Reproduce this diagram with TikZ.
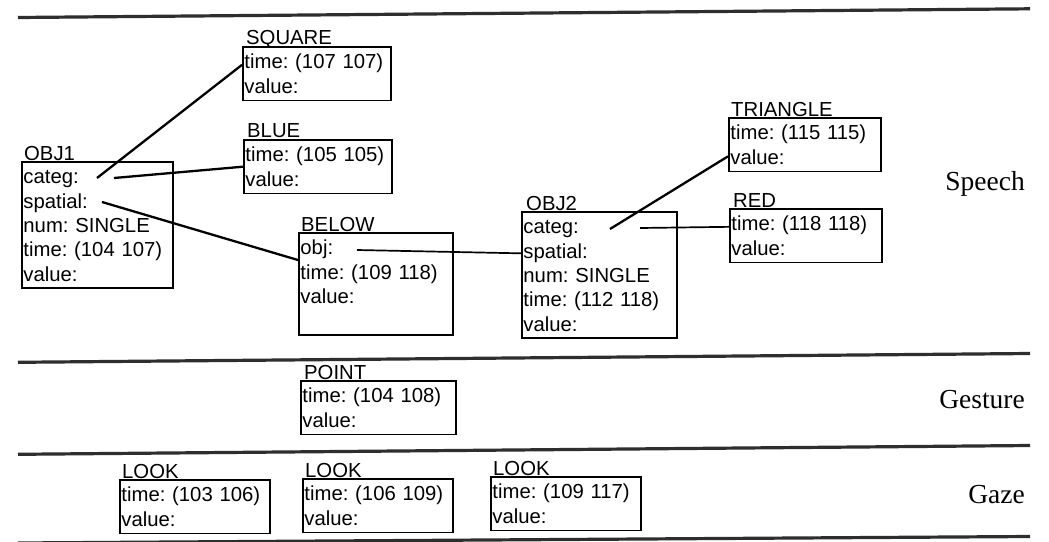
\documentclass[tikz,border=0pt]{standalone}
\usepackage{fontspec}
\setmainfont{Liberation Sans}
\newfontfamily\modefont{Liberation Serif}
\usetikzlibrary{calc}
\newcommand\firstrow{\rule{0pt}{15pt}}
\frenchspacing
\begin{document}
\begin{tikzpicture}[x=1pt,y=-1pt,
  fbox/.style={draw, line width=1.9pt, anchor=north west, align=left,
    inner xsep=1.5pt, inner ysep=7pt, font=\fontsize{20.3}{24.3}\selectfont\frenchspacing},
  ftitle/.style={anchor=base west, inner sep=0pt, font=\fontsize{20.3}{24.3}\selectfont},
  link/.style={line width=2.3pt},
  thinlink/.style={line width=1.7pt},
  sepline/.style={line width=3.2pt, black!82},
  mode/.style={anchor=base east, inner sep=0pt, font=\modefont\fontsize{27.5}{30}\selectfont}]
\fill[white] (0,0) rectangle (1049,541);
\useasboundingbox (0,0) rectangle (1049,541);

% separators
\draw[sepline] (18,17.5) -- (1030,8.8);
\draw[sepline] (18,362.3) -- (1030,353.5);
\draw[sepline] (18,454.3) -- (1030,445.5);
\draw[sepline] (18,543) -- (1030,536.5);

% speech
\node[fbox, text width=145pt] (square) at (242,46) {\firstrow time: (107 107)\\value:};
\node[ftitle] (squareT) at ($(square.north west)+(4,-2)$) {SQUARE};
\node[fbox, text width=145pt] (blue) at (243,139) {\firstrow time: (105 105)\\value:};
\node[ftitle] (blueT) at ($(blue.north west)+(4,-2)$) {BLUE};
\node[fbox, text width=148pt] (obj1) at (21,161) {\firstrow categ:\\spatial:\\num: SINGLE\\time: (104 107)\\value:};
\node[ftitle] (obj1T) at ($(obj1.north west)+(3,-1)$) {OBJ1};
\node[fbox, text width=151pt] (below) at (298,232) {\firstrow obj:\\time: (109 118)\\value:\\\mbox{}};
\node[ftitle] (belowT) at ($(below.north west)+(3,-1)$) {BELOW};
\node[fbox, text width=152pt] (obj2) at (521,211) {\firstrow categ:\\spatial:\\num: SINGLE\\time: (112 118)\\value:};
\node[ftitle] (obj2T) at ($(obj2.north west)+(5,-1)$) {OBJ2};
\node[fbox, text width=149pt] (triangle) at (728,117) {\firstrow time: (115 115)\\value:};
\node[ftitle] (triangleT) at ($(triangle.north west)+(3,-1)$) {TRIANGLE};
\node[fbox, text width=149pt] (red) at (729,208) {\firstrow time: (118 118)\\value:};
\node[ftitle] (redT) at ($(red.north west)+(4,-1)$) {RED};

% gesture
\node[fbox, text width=152pt] (point) at (300,380) {\firstrow time: (104 108)\\value:};
\node[ftitle] (pointT) at ($(point.north west)+(4,-1)$) {POINT};

% gaze
\node[fbox, text width=147pt] (look1) at (119,479) {\firstrow time: (103 106)\\value:};
\node[ftitle] (look1T) at ($(look1.north west)+(3,-1)$) {LOOK};
\node[fbox, text width=147pt] (look2) at (302,478) {\firstrow time: (106 109)\\value:};
\node[ftitle] (look2T) at ($(look2.north west)+(3,-1)$) {LOOK};
\node[fbox, text width=147pt] (look3) at (490,476) {\firstrow time: (109 117)\\value:};
\node[ftitle] (look3T) at ($(look3.north west)+(3,-1)$) {LOOK};

% modality labels
\node[mode] (speech) at (1025,190) {Speech};
\node[mode] (gesture) at (1025,408) {Gesture};
\node[mode] (gaze) at (1025,503) {Gaze};

% connector end points
\coordinate (o1a) at (97,178);
\coordinate (o1b) at (114,178);
\coordinate (o1c) at (102,202);
\coordinate (belo) at (357,250);
\coordinate (o2a) at (610,229);
\coordinate (o2b) at (640,228);
\coordinate (sqin) at ($(square.north west)!0.34!(square.south west)$);
\coordinate (blin) at ($(blue.north west)!0.5!(blue.south west)$);
\coordinate (bein) at ($(below.north west)!0.27!(below.south west)$);
\coordinate (o2in) at ($(obj2.north west)!0.33!(obj2.south west)$);
\coordinate (trin) at ($(triangle.north west)!0.71!(triangle.south west)$);
\coordinate (rdin) at ($(red.north west)!0.34!(red.south west)$);

\draw[link] (o1a) -- (sqin);
\draw[link] (o1b) -- (blin);
\draw[link] (o1c) -- (bein);
\draw[thinlink] (belo) -- (o2in);
\draw[link] (o2a) -- (trin);
\draw[thinlink] (o2b) -- (rdin);
\end{tikzpicture}
\end{document}
